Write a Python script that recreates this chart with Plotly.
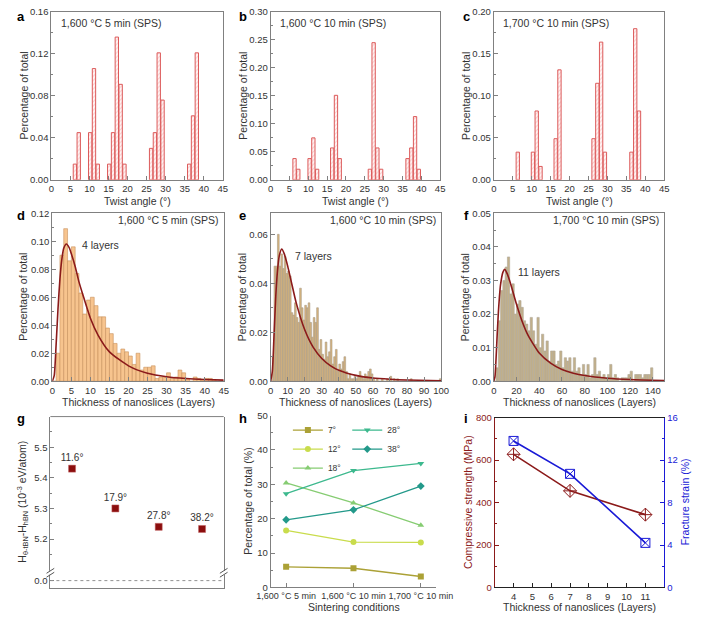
import plotly.graph_objects as go

W, H = 708, 620
FONT = "Arial, 'Liberation Sans', 'DejaVu Sans', sans-serif"
GREY = "#808080"
TXT = "#333333"
DARKRED = "#8b1a1a"
BLUE = "#1a1ad6"

# ---------------- data ----------------
# a-c: twist-angle distributions (bin start angle in degrees, fraction of total)
a_angle = [6, 7, 10, 11, 12, 15, 16, 17, 18, 19, 26, 27, 28, 29, 36, 37, 38]
a_frac = [0.015, 0.045, 0.045, 0.106, 0.015, 0.015, 0.045, 0.136, 0.091, 0.015,
          0.030, 0.045, 0.121, 0.076, 0.015, 0.061, 0.121]
b_angle = [6, 7, 10, 11, 12, 16, 17, 18, 26, 27, 28, 29, 36, 37, 38, 39]
b_frac = [0.038, 0.019, 0.038, 0.075, 0.019, 0.057, 0.151, 0.038, 0.019, 0.245,
          0.057, 0.019, 0.038, 0.057, 0.113, 0.019]
c_angle = [6, 10, 11, 12, 16, 17, 26, 27, 28, 29, 36, 37, 38]
c_frac = [0.033, 0.033, 0.082, 0.016, 0.049, 0.131, 0.049, 0.115, 0.164, 0.033,
          0.033, 0.180, 0.082]

# d-f: thickness distributions (bin start in layers, fraction of total)
d_bin = list(range(0, 45))
d_frac = [0.000, 0.020, 0.090, 0.109, 0.086, 0.096, 0.077, 0.063, 0.048, 0.058,
          0.060, 0.054, 0.046, 0.046, 0.038, 0.034, 0.027, 0.020, 0.023, 0.021,
          0.018, 0.012, 0.020, 0.008, 0.010, 0.010, 0.011, 0.002, 0.003, 0.003,
          0.006, 0.002, 0.003, 0.008, 0.006, 0.002, 0.000, 0.003, 0.002, 0.001,
          0.002, 0.002, 0.001, 0.000, 0.000]
e_bin = list(range(0, 100))
e_frac = [0.000, 0.010, 0.047, 0.047, 0.060, 0.047, 0.052, 0.046, 0.051, 0.044,
          0.045, 0.043, 0.028, 0.027, 0.032, 0.026, 0.024, 0.038, 0.030, 0.025,
          0.031, 0.030, 0.032, 0.024, 0.018, 0.026, 0.024, 0.030, 0.013, 0.017,
          0.011, 0.009, 0.016, 0.010, 0.012, 0.017, 0.007, 0.010, 0.013, 0.004,
          0.007, 0.005, 0.008, 0.010, 0.004, 0.001, 0.003, 0.001, 0.001, 0.002,
          0.001, 0.002, 0.004, 0.002, 0.001, 0.003, 0.002, 0.004, 0.005, 0.003,
          0.001, 0.000, 0.001, 0.000, 0.000, 0.001, 0.000, 0.000, 0.001, 0.000,
          0.002, 0.000, 0.001, 0.000, 0.001, 0.000, 0.000, 0.000, 0.000, 0.000,
          0.000, 0.000, 0.001, 0.000, 0.000, 0.000, 0.000, 0.000, 0.000, 0.000,
          0.000, 0.000, 0.000, 0.000, 0.000, 0.000, 0.000, 0.000, 0.000, 0.001]
f_bin = list(range(0, 150, 2))
f_frac = [0.000, 0.004, 0.018, 0.027, 0.030, 0.034, 0.037, 0.026, 0.029, 0.020,
          0.023, 0.024, 0.022, 0.018, 0.017, 0.015, 0.019, 0.015, 0.011, 0.019,
          0.010, 0.014, 0.009, 0.012, 0.006, 0.009, 0.009, 0.005, 0.006, 0.009,
          0.004, 0.007, 0.006, 0.007, 0.003, 0.007, 0.003, 0.004, 0.002, 0.005,
          0.002, 0.005, 0.001, 0.002, 0.007, 0.002, 0.003, 0.001, 0.002, 0.001,
          0.002, 0.005, 0.001, 0.002, 0.001, 0.000, 0.001, 0.001, 0.001, 0.002,
          0.003, 0.000, 0.002, 0.002, 0.002, 0.001, 0.002, 0.002, 0.002, 0.004,
          0.000, 0.000, 0.000, 0.000, 0.000]

# fitted curves
d_fit_x = [0, 0.5, 1, 1.5, 2, 2.5, 3, 3.7, 4.5, 5, 6, 7, 8, 10, 12, 15, 20, 25, 30, 35, 40, 45]
d_fit_y = [0, 0.004, 0.026, 0.052, 0.073, 0.087, 0.095, 0.098, 0.095, 0.091, 0.082, 0.071,
           0.062, 0.045, 0.033, 0.021, 0.011, 0.0057, 0.0032, 0.0019, 0.0012, 0.0008]
e_fit_x = [0, 1, 2, 3, 4, 5, 6.5, 8, 10, 12, 15, 20, 25, 30, 35, 40, 50, 60, 70, 80, 100]
e_fit_y = [0, 0.004, 0.019, 0.0345, 0.045, 0.051, 0.054, 0.052, 0.047, 0.041, 0.032, 0.021,
           0.0138, 0.0093, 0.0064, 0.0045, 0.0024, 0.0013, 0.0008, 0.0005, 0.0002]
f_fit_x = [0, 1, 2, 3, 4, 5, 6, 8, 9.5, 12, 15, 20, 25, 30, 40, 50, 60, 70, 80, 100, 120, 150]
f_fit_y = [0, 0.0012, 0.0067, 0.0138, 0.0202, 0.0252, 0.0288, 0.0324, 0.0333, 0.0319,
           0.0288, 0.0229, 0.0178, 0.0138, 0.0084, 0.0054, 0.0035, 0.0024, 0.0017,
           0.0009, 0.0005, 0.0002]

# g: formation enthalpy difference
g_angle = ["11.6°", "17.9°", "27.8°", "38.2°"]
g_energy = [5.43, 5.30, 5.24, 5.233]

# h: angle fractions vs sintering conditions
h_conditions = ["1,600 °C 5 min", "1,600 °C 10 min", "1,700 °C 10 min"]
h_7 = [6.0, 5.6, 3.2]
h_12 = [16.6, 13.2, 13.1]
h_18 = [30.4, 24.6, 18.1]
h_28 = [27.3, 34.0, 36.1]
h_38 = [19.7, 22.6, 29.5]

# i: mechanical properties
i_layers = [4, 7, 11]
i_strength = [627, 455, 343]
i_strain = [13.8, 10.7, 4.2]


# ---------------- helpers ----------------
def xd(a, b):
    return [a / W, b / W]


def yd(top, bottom):
    return [1 - bottom / H, 1 - top / H]


def px(x):
    return x / W


def py(y):
    return 1 - y / H


def axis(**kw):
    d = dict(showline=True, linecolor=GREY, linewidth=1, mirror=True, ticks="inside",
             ticklen=4, tickwidth=1, tickcolor=GREY,
             tickfont=dict(size=9.5, color=TXT, family=FONT),
             showgrid=False, zeroline=False, fixedrange=True)
    d.update(kw)
    return d


def minor(dt, color=GREY):
    return dict(dtick=dt, ticks="inside", ticklen=2, tickcolor=color, showgrid=False)


fig = go.Figure()
layout = dict(width=W, height=H, margin=dict(l=0, r=0, t=0, b=0),
              paper_bgcolor="white", plot_bgcolor="white",
              font=dict(family=FONT, color=TXT), showlegend=True)
annotations = []
shapes = []


def note(x, y, text, size=10.5, color=TXT, angle=0, xanchor="center", bold=False):
    if bold:
        text = "<b>" + text + "</b>"
    annotations.append(dict(x=px(x), y=py(y), xref="paper", yref="paper", text=text,
                            showarrow=False, textangle=angle, xanchor=xanchor,
                            yanchor="middle", font=dict(size=size, color=color, family=FONT)))


def ax_names(n):
    s = "" if n == 1 else str(n)
    return "x" + s, "y" + s, "xaxis" + s, "yaxis" + s


# ---------------- a-c ----------------
top_panels = [
    (1, a_angle, a_frac, (39, 218), 0.16, 0.04, "1,600 °C 5 min (SPS)", -0.25),
    (2, b_angle, b_frac, (268, 445), 0.30, 0.05, "1,600 °C 10 min (SPS)", -0.1),
    (3, c_angle, c_frac, (501, 679), 0.20, 0.05, "1,700 °C 10 min (SPS)", -0.1),
]
for n, ang, frac, (xl, xr), ymax, dt, label, off in top_panels:
    xa, ya, xk, yk = ax_names(n)
    fig.add_trace(go.Bar(
        x=ang, y=frac, width=0.88, offset=off, xaxis=xa, yaxis=ya, showlegend=False,
        marker=dict(color="white", line=dict(color="#dc5a5a", width=1),
                    pattern=dict(shape="/", fgcolor="#f4a6a6", bgcolor="#fff4f4",
                                 size=3, solidity=0.35))))
    layout[xk] = axis(domain=xd(xl, xr), anchor=ya, range=[0, 45], dtick=5, tick0=0)
    layout[yk] = axis(domain=yd(6, 177), anchor=xa, range=[0, ymax], dtick=dt,
                      tickformat=".2f", minor=minor(dt / 2))
    note(xl + 8, 17, label, xanchor="left")
    note(xl - 29, 91.5, "Percentage of total", angle=-90)
    note((xl + xr) / 2, 199, "Twist angle (°)")

# ---------------- d-f ----------------
mid_panels = [
    (4, d_bin, d_frac, 1, d_fit_x, d_fit_y, (40, 219), [0, 0.12], 0.02, 45, 5,
     "#f7c48e", "#c8905c", "1,600 °C 5 min (SPS)", "4 layers", (69, 243)),
    (5, e_bin, e_frac, 1, e_fit_x, e_fit_y, (268, 446), [0, 0.0686], 0.02, 100, 10,
     "#d8b47c", "#a89a86", "1,600 °C 10 min (SPS)", "7 layers", (291, 255)),
    (6, f_bin, f_frac, 2, f_fit_x, f_fit_y, (501, 679), [0, 0.05], 0.01, 150, 20,
     "#c2b08a", "#b0a898", "1,700 °C 10 min (SPS)", "11 layers", (524, 271)),
]
for (n, bins, frac, bw, fx, fy, (xl, xr), yr, dt, xmax, xdt, fill, edge, label,
     peak, (lx, ly)) in mid_panels:
    xa, ya, xk, yk = ax_names(n)
    fig.add_trace(go.Bar(x=bins, y=frac, width=bw, offset=0, xaxis=xa, yaxis=ya,
                         showlegend=False,
                         marker=dict(color=fill, line=dict(color=edge, width=0.6))))
    fig.add_trace(go.Scatter(x=fx, y=fy, mode="lines", xaxis=xa, yaxis=ya, showlegend=False,
                             line=dict(color=DARKRED, width=1.6, shape="spline",
                                       smoothing=0.6)))
    layout[xk] = axis(domain=xd(xl, xr), anchor=ya, range=[0, xmax], dtick=xdt, tick0=0)
    layout[yk] = axis(domain=yd(211, 382), anchor=xa, range=yr, dtick=dt,
                      tickformat=".2f", minor=minor(dt / 2))
    note(xr - 3, 218, label, xanchor="right")
    note(lx, ly, peak, xanchor="left")
    note(xl - 30, 296.5, "Percentage of total", angle=-90)
    note((xl + xr) / 2, 403, "Thickness of nanoslices (Layers)")

# ---------------- g (broken axis) ----------------
gxl, gxr = 38, 219
fig.add_trace(go.Scatter(x=g_angle, y=g_energy, mode="markers+text", text=g_angle,
                         textposition="top center", xaxis="x7", yaxis="y7",
                         showlegend=False, cliponaxis=False,
                         textfont=dict(size=10, color=TXT),
                         marker=dict(symbol="square", size=7, color="#8b0e0e",
                                     line=dict(color="#c06060", width=0.5))))
layout["xaxis7"] = axis(domain=xd(gxl, gxr), anchor="y8", range=[-0.5, 3.5],
                        type="category", showticklabels=False, ticks="",
                        mirror=False)
layout["yaxis7"] = axis(domain=yd(418, 577), anchor="x7", range=[5.09, 5.6],
                        tickvals=[5.2, 5.3, 5.4, 5.5], ticktext=["5.2", "5.3", "5.4", "5.5"],
                        minor=dict(tickvals=[5.15, 5.25, 5.35, 5.45, 5.55], ticks="inside",
                                   ticklen=2, tickcolor=GREY))
layout["yaxis8"] = axis(domain=yd(577, 593), anchor="x7", range=[-0.05, 0.05],
                        tickvals=[0], ticktext=["0.0"])
shapes.append(dict(type="line", xref="x7 domain", x0=0, x1=1, yref="y8", y0=0, y1=0,
                   line=dict(color="#909090", width=1, dash="dot")))
shapes.append(dict(type="line", xref="paper", yref="paper", x0=px(gxl), x1=px(gxr),
                   y0=py(418), y1=py(418), line=dict(color=GREY, width=1)))
for bx in (gxl, gxr):
    shapes.append(dict(type="rect", xref="paper", yref="paper", x0=px(bx - 2), x1=px(bx + 2),
                       y0=py(579), y1=py(575), fillcolor="white", line=dict(width=0)))
    for dy in (-2, 2):
        shapes.append(dict(type="line", xref="paper", yref="paper",
                           x0=px(bx - 4), y0=py(577 + dy + 2.5),
                           x1=px(bx + 4), y1=py(577 + dy - 2.5),
                           line=dict(color="#555555", width=1)))
note(9, 505, "H<sub>θ-tBN</sub>-H<sub>hBN</sub> (10<sup>-3</sup> eV/atom)", angle=-90)

# ---------------- h ----------------
h_series = [
    ("7°", h_7, "#aba136", "square", "legend", 1),
    ("12°", h_12, "#c9dc4c", "circle", "legend", 2),
    ("18°", h_18, "#86cc72", "triangle-up", "legend", 3),
    ("28°", h_28, "#3db98e", "triangle-down", "legend2", 4),
    ("38°", h_38, "#23998a", "diamond", "legend2", 5),
]
for name, vals, col, sym, leg, rank in h_series:
    fig.add_trace(go.Scatter(x=h_conditions, y=vals, name=name, mode="lines+markers",
                             xaxis="x8", yaxis="y9", legend=leg, legendrank=rank,
                             line=dict(color=col, width=1.3),
                             marker=dict(symbol=sym, size=6, color=col)))
layout["xaxis8"] = axis(domain=xd(268, 441), anchor="y9", range=[-0.23, 2.23],
                        type="category", mirror=False, tickangle=0,
                        tickfont=dict(size=9, color=TXT, family=FONT))
layout["yaxis9"] = axis(domain=yd(417, 592), anchor="x8", range=[0, 50], dtick=10,
                        mirror=False, minor=minor(5))
legend_common = dict(xanchor="left", yanchor="top", bgcolor="rgba(0,0,0,0)",
                     font=dict(size=8.5, color=TXT), tracegroupgap=0, itemwidth=30,
                     traceorder="normal")
layout["legend"] = dict(x=px(286), y=py(417), **legend_common)
layout["legend2"] = dict(x=px(348), y=py(417), **legend_common)
note(244, 504, "Percentage of total (%)", angle=-90)
note(355, 612, "Sintering conditions")

# ---------------- i ----------------
fig.add_trace(go.Scatter(x=i_layers, y=i_strength, mode="lines+markers", xaxis="x9",
                         yaxis="y10", showlegend=False,
                         line=dict(color=DARKRED, width=1.6),
                         marker=dict(symbol="diamond-cross-open", size=10, color=DARKRED,
                                     line=dict(width=1))))
fig.add_trace(go.Scatter(x=i_layers, y=i_strain, mode="lines+markers", xaxis="x9",
                         yaxis="y11", showlegend=False,
                         line=dict(color=BLUE, width=1.6),
                         marker=dict(symbol="square-x-open", size=9, color=BLUE,
                                     line=dict(width=1))))
layout["xaxis9"] = axis(domain=xd(502, 679), anchor="y10", range=[3, 12],
                        tickvals=[4, 5, 6, 7, 8, 9, 10, 11], linecolor="#222222",
                        tickcolor="#222222")
layout["yaxis10"] = axis(domain=yd(419, 592), anchor="x9", range=[0, 800], dtick=200,
                         mirror=False, linecolor=DARKRED, tickcolor=DARKRED,
                         tickfont=dict(size=9.5, color=DARKRED, family=FONT),
                         minor=minor(100, DARKRED))
layout["yaxis11"] = axis(domain=yd(419, 592), anchor="x9", overlaying="y10", side="right",
                         range=[0, 16], dtick=4, mirror=False, linecolor=BLUE,
                         tickcolor=BLUE, tickfont=dict(size=9.5, color=BLUE, family=FONT),
                         minor=minor(2, BLUE))
note(474, 505, "Compressive strength (MPa)", color=DARKRED, angle=-90)
note(701, 505, "Fracture strain (%)", color=BLUE, angle=-90)
note(591, 612, "Thickness of nanoslices (Layers)")

# ---------------- panel letters ----------------
for letter, x, y in [("a", 7, 11), ("b", 239, 11), ("c", 472, 11),
                     ("d", 7, 213), ("e", 239, 213), ("f", 472, 213),
                     ("g", 7, 420), ("h", 239, 420), ("i", 472, 420)]:
    note(x, y, letter, size=13, color="#000000", bold=True)

layout["annotations"] = annotations
layout["shapes"] = shapes
fig.update_layout(**layout)
fig.write_html("out.html",
               config={"displayModeBar": False, "staticPlot": True},
               post_script="document.body.style.margin='0px';"
                           "document.body.style.overflow='hidden';")
